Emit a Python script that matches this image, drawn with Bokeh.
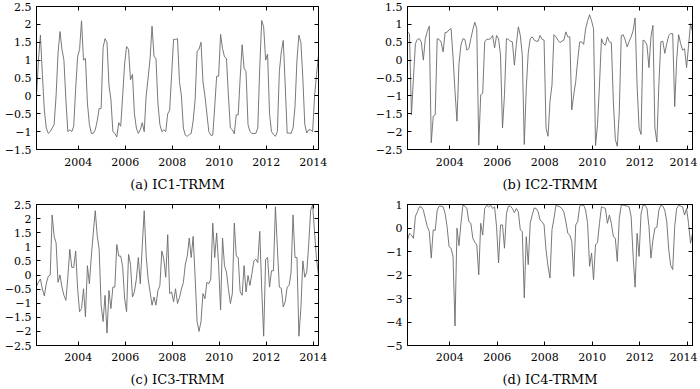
from bokeh.plotting import figure
from bokeh.models import Range1d, FixedTicker, LinearAxis, CustomJSTickFormatter
from bokeh.layouts import row, column
from bokeh.embed import file_html
from bokeh.resources import INLINE

# ---------------- data (monthly series) ----------------
START_YEAR = 2002.22  # first month of the series (decimal year)

ic1 = [
    0.0, 1.0, 1.7, 0.6, -0.4, -0.9, -1.05, -1.0, -0.9, -0.8, 0.0, 1.2,
    1.8, 1.3, 1.0, -0.1, -1.0, -0.95, -1.0, -0.85, 0.2, 1.1, 1.3, 2.1,
    1.0, 1.05, -0.2, -0.8, -1.05, -1.05, -0.95, -0.7, -0.35, -0.35, 1.35, 1.6,
    1.5, 0.3, -0.1, -1.0, -1.05, -1.15, -0.75, -0.85, 0.0, 0.9, 1.38, 1.3,
    0.45, 0.6, -0.5, -0.9, -1.05, -0.95, -0.75, -1.0, 0.0, 0.5, 1.05, 1.95,
    1.1, 1.05, -0.2, -0.8, -1.0, -0.95, -1.0, -0.5, -0.4, 0.6, 1.58, 1.58,
    1.6, 0.4, 0.0, -0.9, -1.1, -1.13, -1.08, -1.05, -0.7, -0.1, 1.25, 1.3,
    1.5, 0.4, 0.0, -0.5, -1.0, -1.1, -1.1, -0.3, 0.55, 0.55, 1.72, 1.32,
    1.09, 1.05, 0.0, -0.9, -0.95, -1.06, -0.53, -0.53, 0.5, 1.43, 0.77, 0.68,
    -0.8, -1.0, -1.05, -1.05, -1.05, -0.9, 0.8, 2.11, 1.93, 1.0, 1.17, -0.5,
    -1.0, -1.08, -1.13, -1.0, 0.68, 1.23, 1.55, 0.3, -1.04, -1.04, -1.05, -0.9,
    -0.3, 1.0, 1.7, 1.49, 0.5, -0.8, -1.04, -0.95, -0.95, -1.0, 0.0, 0.6,
    1.14,
]

ic2 = [
    0.79, 0.74, -1.53, -0.5, 0.46, 0.58, 0.6, 0.5, 0.0, 0.6, 0.8, 0.95,
    -2.31, -1.57, -1.53, 0.6, 0.58, 0.5, 0.23, 0.77, 0.78, 0.85, 0.88, 0.1,
    -0.88, -1.71, -0.1, 0.42, 0.6, 0.58, 0.28, 0.32, 0.6, 0.85, 1.06, 0.88,
    -2.38, -0.97, -0.93, 0.51, 0.58, 0.58, 0.6, 0.69, 0.34, 0.69, 0.6, 0.14,
    -1.9, -0.97, 0.6, 0.58, 0.53, 0.51, -0.14, 0.44, 0.93, 0.69, 0.14, -2.36,
    -0.8, 0.2, 0.6, 0.65, 0.56, 0.53, 0.53, 0.69, 0.58, 0.56, -1.9, -2.13,
    -1.15, -0.7, 0.71, 0.65, 0.56, 0.49, 0.53, 0.56, 0.79, 0.65, 0.65, -1.39,
    -0.97, -0.6, 0.0, 0.51, 0.51, 0.44, 0.88, 1.1, 1.27, 1.1, 0.88, -2.39,
    -1.8, -0.7, 0.6, 0.46, 0.42, 0.65, 0.51, 0.49, -1.15, -2.22, -2.41, -1.45,
    0.69, 0.71, 0.56, 0.37, 0.53, 0.65, 0.83, 1.18, -0.7, -1.9, -2.08, 0.56,
    0.53, 0.42, -0.21, 0.65, 0.97, -1.9, -2.29, -0.7, 0.51, 0.53, 0.19, 0.46,
    0.69, 0.74, 0.74, -1.3, 0.0, 0.71, 0.46, 0.28, 0.32, -0.21, 0.4, 1.02,
    0.8,
]

ic3 = [
    -0.4, -0.25, -0.14, -0.5, -0.74, -0.3, -0.05, 0.0, 2.13, 1.37, 1.14, -0.26,
    0.0, -0.43, -0.72, -0.9, -0.08, 0.91, 0.27, 0.27, 0.85, -0.49, -1.3, -1.19,
    -0.49, -1.48, 0.33, -0.31, 0.67, 1.49, 2.28, 1.4, 0.91, -1.07, -1.65, -0.72,
    -2.06, -0.55, -1.19, -0.43, -0.43, 1.08, 0.67, 0.67, 0.3, -0.84, -1.3, 0.73,
    0.38, -0.78, -0.6, -0.14, 0.62, -0.31, 1.02, 2.28, 0.67, -0.14, -0.6, -1.07,
    -0.78, -1.07, -0.55, -0.37, 0.85, 0.56, -0.08, 1.43, -0.66, -0.6, -0.95, -0.49,
    -1.01, -0.8, -0.5, -0.26, 0.38, 0.67, 1.31, 0.62, 1.37, -0.08, -1.65, -2.0,
    -1.65, -0.66, -0.84, -0.26, -0.31, -0.14, 1.84, 0.62, 1.49, 0.33, -1.24, 1.31,
    0.33, 0.1, -0.49, -1.01, -0.66, 1.84, 0.67, 0.62, -0.6, -0.72, 0.33, -0.6,
    -0.02, -0.37, 0.05, 0.5, 0.56, 0.44, 1.55, -0.49, -2.17, 0.56, 0.62, -0.43,
    0.15, 0.15, 2.42, 0.97, -0.43, -0.47, -1.13, -0.95, -0.43, -0.37, 0.1, 2.13,
    0.62, 0.62, -2.17, -1.19, 0.5, -0.08, 0.1, 1.08, 2.3, 2.48, 1.49, 0.56,
    0.0,
]

ic4 = [
    -0.51, -0.23, -0.3, -0.44, 0.5, 0.69, 0.9, 0.9, 0.76, 0.41, 0.06, -0.15,
    -1.28, -0.08, -0.1, 0.76, 0.93, 0.93, 0.9, 0.62, 0.06, -0.79, -0.86, -1.21,
    -4.17, -0.01, -0.75, 0.2, 0.97, 0.93, 0.83, 0.27, 0.2, -0.44, -0.6, -0.72,
    -1.99, 0.2, -0.3, 0.83, 0.97, 0.9, 0.97, 0.83, 0.9, 0.06, -1.49, 0.13,
    0.13, -0.86, 0.62, 0.93, 0.93, 0.83, 0.65, 0.83, 0.69, -0.08, -0.15, -2.97,
    -0.37, -1.56, 0.2, 0.55, 0.85, 0.83, 0.69, 0.34, 0.27, 0.13, -0.93, -1.63,
    -2.13, -0.08, 0.41, 0.97, 0.93, 0.9, 0.83, 0.69, 0.27, -0.23, -0.3, -0.58,
    -2.06, 0.13, 0.27, 0.93, 0.97, 0.97, 0.76, 0.2, -1.63, -1.07, -2.2, -0.72,
    -0.62, 0.2, 0.9, 0.87, 0.83, 0.2, 0.55, 0.2, -0.37, -0.44, -1.42, 0.4,
    0.97, 0.97, 0.95, 0.93, 0.9, 0.48, -1.21, -2.52, -0.23, -1.21, 0.6, 0.97,
    0.97, 0.83, 0.06, -1.28, -0.51, -0.01, 0.03, 0.76, 0.97, 0.93, 0.76, 0.27,
    -0.93, -1.6, -1.77, 0.06, 0.83, 0.97, 0.93, 0.9, 0.55, 0.83, 0.2, -0.65,
    -0.23,
]

x_ticks = [2004, 2006, 2008, 2010, 2012, 2014]
y_ticks_a = [-1.5, -1, -0.5, 0, 0.5, 1, 1.5, 2, 2.5]
y_ticks_b = [-2.5, -2, -1.5, -1, -0.5, 0, 0.5, 1, 1.5]
y_ticks_c = [-2.5, -2, -1.5, -1, -0.5, 0, 0.5, 1, 1.5, 2, 2.5]
y_ticks_d = [-5, -4, -3, -2, -1, 0, 1]

captions = ["(a) IC1-TRMM", "(b) IC2-TRMM", "(c) IC3-TRMM", "(d) IC4-TRMM"]

# ---------------- styling ----------------
FONT = "DejaVu Serif"
LINE_COLOR = "#6a6a6a"

minus_fmt = CustomJSTickFormatter(
    code="return (tick < 0 ? '\u2212' : '') + String(Math.abs(tick));")


def style_axis(ax, ticks, mirror=False, standoff=5):
    ax.axis_line_color = "black"
    if mirror:
        # mirrored frame ticks: drawn as minor ticks so no labels exist
        ax.ticker = FixedTicker(ticks=[], minor_ticks=ticks)
        ax.minor_tick_in = 4
        ax.minor_tick_out = 0
        ax.minor_tick_line_color = "black"
        ax.major_tick_line_color = None
    else:
        ax.ticker = FixedTicker(ticks=ticks)
        ax.major_tick_in = 4
        ax.major_tick_out = 0
        ax.minor_tick_line_color = None
        ax.major_tick_line_color = "black"
        ax.major_label_text_font = FONT
        ax.major_label_text_font_size = "11px"
        ax.major_label_text_color = "black"
        ax.major_label_standoff = standoff


def panel(vals, y_ticks, caption, width, height, bl, br, bt, bb,
          x_standoff, cap_standoff):
    xs = [START_YEAR + i / 12.0 for i in range(len(vals))]
    p = figure(width=width, height=height, output_backend="svg",
               toolbar_location=None,
               x_range=Range1d(xs[0], xs[-1]),
               y_range=Range1d(y_ticks[0], y_ticks[-1]),
               min_border_left=bl, min_border_right=br,
               min_border_top=bt, min_border_bottom=bb)
    p.grid.visible = False
    p.outline_line_color = "black"
    p.outline_line_width = 1
    p.background_fill_color = "white"
    p.border_fill_color = "white"

    p.line(xs, vals, line_color=LINE_COLOR, line_width=0.9)

    style_axis(p.xaxis[0], x_ticks, standoff=x_standoff)
    style_axis(p.yaxis[0], y_ticks, standoff=5)
    p.yaxis[0].formatter = minus_fmt
    ax = p.xaxis[0]
    ax.axis_label = caption
    ax.axis_label_text_font = FONT
    ax.axis_label_text_font_size = "13px"
    ax.axis_label_text_font_style = "normal"
    ax.axis_label_text_color = "black"
    ax.axis_label_standoff = cap_standoff

    top = LinearAxis()
    style_axis(top, x_ticks, mirror=True)
    p.add_layout(top, "above")
    right = LinearAxis()
    style_axis(right, y_ticks, mirror=True)
    p.add_layout(right, "right")
    return p


pa = panel(ic1, y_ticks_a, captions[0], 371, 194, 33, 54, 5, 46, 8, 8)
pb = panel(ic2, y_ticks_b, captions[1], 325, 194, 35, 5, 5, 46, 8, 8)
pc = panel(ic3, y_ticks_c, captions[2], 371, 194, 33, 54, 9, 43, 7, 8)
pd = panel(ic4, y_ticks_d, captions[3], 325, 194, 35, 5, 9, 43, 7, 8)

layout = column(row(pa, pb), row(pc, pd),
                styles={"position": "absolute", "left": "1px", "top": "1px"})

open("out.html", "w").write(file_html(layout, INLINE))
